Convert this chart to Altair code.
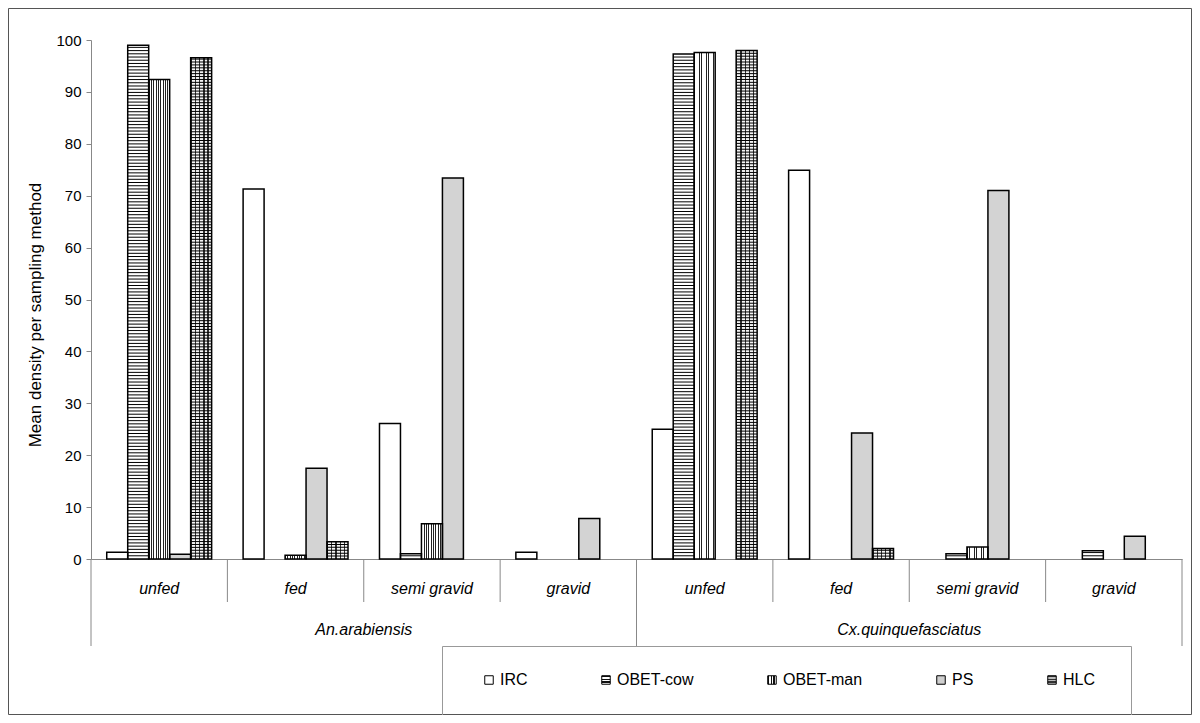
import altair as alt
import pandas as pd

# ---------------- data ----------------
species = ["An.arabiensis", "Cx.quinquefasciatus"]
states = ["unfed", "fed", "semi gravid", "gravid"]
methods = ["IRC", "OBET-cow", "OBET-man", "PS", "HLC"]

# rows: states (unfed, fed, semi gravid, gravid); columns: methods
an_values = [
    [1.3, 99.0, 92.4, 0.9, 96.6],
    [71.3, 0.0, 0.7, 17.5, 3.3],
    [26.1, 1.0, 6.8, 73.4, 0.0],
    [1.3, 0.0, 0.0, 7.8, 0.0],
]
cx_values = [
    [25.0, 97.3, 97.6, 0.0, 98.0],
    [74.9, 0.0, 0.0, 24.3, 2.0],
    [0.0, 1.0, 2.3, 71.0, 0.0],
    [0.0, 1.6, 0.0, 4.4, 0.0],
]
y_title = "Mean density per sampling method"

# ---------------- tables built from the arrays ----------------
groups = [f"{sp}|{st}" for sp in species for st in states]
rows = []
for sp, table in zip(species, [an_values, cx_values]):
    for st, vals in zip(states, table):
        for m, v in zip(methods, vals):
            rows.append({"group": f"{sp}|{st}", "species": sp, "state": st,
                         "method": m, "value": v})
df = pd.DataFrame(rows)
grp_df = pd.DataFrame({"group": groups,
                       "state": [g.split("|")[1] for g in groups]})
sp_df = pd.DataFrame({"group": [f"{sp}|{states[2]}" for sp in species],
                      "label": species})
meth_df = pd.DataFrame({"method": methods})
one = pd.DataFrame({"k": [0]})

# ---------------- geometry / style ----------------
W, H = 1091, 519
FONT = "Liberation Sans"

xscale = alt.Scale(domain=groups, paddingInner=0, paddingOuter=0)
oscale = alt.Scale(domain=methods, paddingInner=0, paddingOuter=0.75)
yscale = alt.Scale(domain=[0, 100], nice=False)

xaxis = alt.Axis(title=None, ticks=False, domainColor="#888888",
                 labelExpr="split(datum.label, '|')[1]", labelFontSize=16,
                 labelFontStyle="italic", labelColor="black", labelPadding=29,
                 labelBaseline="middle", labelAngle=0, labelFont=FONT,
                 labelOverlap=False)
yaxis = alt.Axis(values=list(range(0, 101, 10)), tickSize=5, tickColor="#888888",
                 domainColor="#888888", labelFontSize=15, labelColor="black",
                 labelPadding=5, grid=False, title=y_title, titleFontSize=17,
                 titleFontWeight="normal", titleX=-56, titleY=H / 2 + 15,
                 titleAngle=270, titleAlign="center", titleBaseline="middle",
                 titleColor="black", labelFont=FONT, titleFont=FONT)


def X(**kw):
    return alt.X("group:N", sort=groups, scale=xscale, axis=xaxis, **kw)


def XO():
    return alt.XOffset("method:N", sort=methods, scale=oscale)


def Y(field):
    return alt.Y(field, scale=yscale, axis=yaxis)


def stripe_stops(n, frac, dark, light):
    stops = []
    for i in range(n):
        a, b, c = i / n, (i + frac) / n, (i + 1) / n
        stops += [(dark, a), (dark, b), (light, b), (light, c)]
    return stops


def stripe_gradient(n, frac, dark, light, vertical_lines):
    stops = [alt.GradientStop(color=c, offset=o)
             for c, o in stripe_stops(n, frac, dark, light)]
    if vertical_lines:
        return alt.Gradient(gradient="linear", stops=stops, x1=0, x2=1, y1=0, y2=0)
    return alt.Gradient(gradient="linear", stops=stops, x1=0, x2=0, y1=0, y2=1)


def stripe_expr(n, frac, dark, light, vertical_lines):
    st = ",".join("{offset:%.4f,color:'%s'}" % (o, c)
                  for c, o in stripe_stops(n, frac, dark, light))
    x2, y2 = (1, 0) if vertical_lines else (0, 1)
    return {"expr": "{gradient:'linear',x1:0,y1:0,x2:%d,y2:%d,stops:[%s]}"
                    % (x2, y2, st)}


base = alt.Chart(df).transform_filter("datum.value > 0")

plain = base.transform_filter(
    "datum.method == 'IRC' || datum.method == 'OBET-cow'"
).mark_bar(fill="white").encode(x=X(), xOffset=XO(), y=Y("value:Q"))

ps = base.transform_filter("datum.method == 'PS'").mark_bar(
    fill="#d3d3d3").encode(x=X(), xOffset=XO(), y=Y("value:Q"))

man = base.transform_filter("datum.method == 'OBET-man'").mark_bar(
    fill=stripe_gradient(9, 0.38, "#222222", "#ffffff", True)
).encode(x=X(), xOffset=XO(), y=Y("value:Q"))

hlc = base.transform_filter("datum.method == 'HLC'").mark_bar(
    fill=stripe_gradient(5, 0.3, "#333333", "#f4f4f4", True)
).encode(x=X(), xOffset=XO(), y=Y("value:Q"))

lines = base.transform_filter(
    "datum.method == 'OBET-cow' || datum.method == 'HLC'"
).transform_calculate(
    step="datum.method == 'HLC' ? 0.56 : 0.62"
).transform_calculate(
    s="sequence(datum.step, datum.value, datum.step)"
).transform_flatten(["s"]).mark_tick(
    orient="horizontal", thickness=1, size=21, color="black", opacity=1
).encode(x=X(), xOffset=XO(), y=Y("s:Q"))

outline = base.mark_bar(fillOpacity=0, stroke="black", strokeWidth=1.5).encode(
    x=X(), xOffset=XO(), y=Y("value:Q"))

short_sep = alt.Chart(grp_df).transform_filter("datum.state != 'unfed'").mark_rule(
    color="#888888", strokeWidth=1).encode(
    x=X(bandPosition=0), y=alt.value(H), y2=alt.value(H + 43))

long_sep = alt.Chart(grp_df).transform_filter("datum.state == 'unfed'").mark_rule(
    color="#888888", strokeWidth=1).encode(
    x=X(bandPosition=0), y=alt.value(H), y2=alt.value(H + 87))

end_sep = alt.Chart(one).mark_rule(color="#888888", strokeWidth=1).encode(
    x=alt.value(W), y=alt.value(H), y2=alt.value(H + 87))

sp_text = alt.Chart(sp_df).mark_text(
    fontStyle="italic", fontSize=16, font=FONT, color="black",
    baseline="middle", align="center").encode(
    x=X(bandPosition=0), y=alt.value(H + 71), text="label:N")

legend_box = alt.Chart(one).mark_rect(
    fillOpacity=0, stroke="#999999", strokeWidth=1).encode(
    x=alt.value(351.5), x2=alt.value(1040.5), y=alt.value(606.5), y2=alt.value(680))

frame = alt.Chart(one).mark_rect(
    fillOpacity=0, stroke="#555555", strokeWidth=1).encode(
    x=alt.value(-82.5), x2=alt.value(1100.5), y=alt.value(-31.5), y2=alt.value(674.5))

legend_fills = [
    "#ffffff",
    stripe_expr(3, 0.4, "#111111", "#ffffff", False),
    stripe_expr(3, 0.4, "#111111", "#ffffff", True),
    "#cfcfcf",
    stripe_expr(3, 0.45, "#333333", "#bbbbbb", False),
]
legend_layer = alt.Chart(meth_df).mark_square(opacity=0, stroke="black").encode(
    x=alt.value(0), y=alt.value(0),
    fill=alt.Fill("method:N", sort=methods,
                  scale=alt.Scale(domain=methods, range=legend_fills),
                  legend=alt.Legend(title=None, orient="none", legendX=390,
                                    legendY=632, direction="horizontal",
                                    columns=5, columnPadding=70,
                                    symbolType="square", symbolSize=72,
                                    symbolStrokeColor="black",
                                    symbolStrokeWidth=1, symbolOpacity=1,
                                    labelFontSize=16, labelFont=FONT,
                                    labelColor="black", labelOffset=3,
                                    padding=0)))

chart = alt.layer(
    frame, legend_box, short_sep, long_sep, end_sep,
    plain, ps, man, hlc, lines, outline, sp_text, legend_layer
).properties(
    width=W, height=H,
    autosize=alt.AutoSizeParams(type="none"),
    padding={"left": 83, "top": 32, "right": 10, "bottom": 156},
).configure(font=FONT, background="white").configure_view(strokeWidth=0)

chart.save("out.html", embed_options={"renderer": "svg", "actions": False})
